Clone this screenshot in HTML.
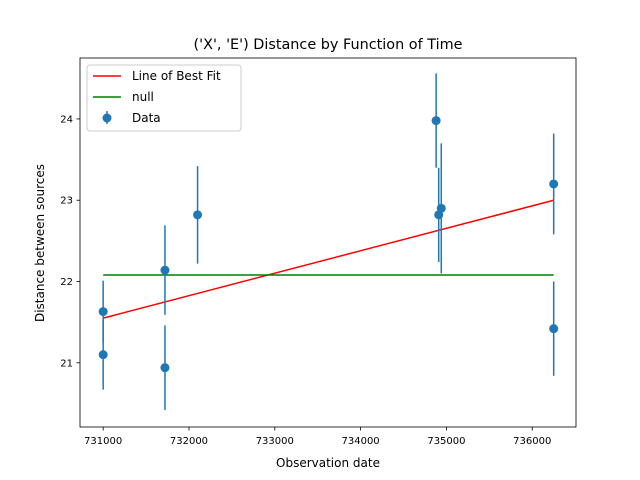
<!DOCTYPE html>
<html><head><meta charset="utf-8"><style>
body{margin:0;background:#fff}
svg{display:block;font-family:"DejaVu Sans","Liberation Sans",sans-serif}
</style></head><body>
<svg id="chart" width="640" height="480"></svg>
<script>
const xs=[731000,731000,731720,731720,732100,734880,734910,734940,736250,736250];
const ys=[21.63,21.10,22.14,20.94,22.82,23.98,22.82,22.90,23.20,21.42];
const errs=[0.38,0.43,0.55,0.52,0.6,0.58,0.58,0.8,0.62,0.58];
const fitX=[731000,736250];
const fitY=[21.55,23.0];
const nullY=[22.08,22.08];
const xTicks=[731000,732000,733000,734000,735000,736000];
const yTicks=[21,22,23,24];
const L=80,R=576,T=58,B=427;
const x0=730730,x1=736510,y0=20.21,y1=24.75;
const sx=v=>L+(v-x0)/(x1-x0)*(R-L);
const sy=v=>B-(v-y0)/(y1-y0)*(B-T);
const svg=document.getElementById('chart');
const NS='http://www.w3.org/2000/svg';
function mk(t,a,p){const e=document.createElementNS(NS,t);for(const k in a)e.setAttribute(k,a[k]);(p||svg).appendChild(e);return e;}
let e;
e=mk('rect',{x:L,y:T,width:R-L,height:B-T,fill:'none',stroke:'#000','stroke-width':0.8});


xTicks.forEach(v=>{
 e=mk('line',{x1:sx(v),x2:sx(v),y1:B,y2:B+3.5,stroke:'#000','stroke-width':0.8});
 
 
 e=mk('text',{x:sx(v),y:B+17,'text-anchor':'middle','font-size':10});e.textContent=v;
 
 
});
yTicks.forEach(v=>{
 e=mk('line',{x1:L-3.5,x2:L,y1:sy(v),y2:sy(v),stroke:'#000','stroke-width':0.8});
 
 
 e=mk('text',{x:L-7,y:sy(v)+3.5,'text-anchor':'end','font-size':10});e.textContent=v;
 
 
});
e=mk('line',{x1:sx(fitX[0]),y1:sy(fitY[0]),x2:sx(fitX[1]),y2:sy(fitY[1]),stroke:'red','stroke-width':1.5});


e=mk('line',{x1:sx(fitX[0]),y1:sy(nullY[0]),x2:sx(fitX[1]),y2:sy(nullY[1]),stroke:'green','stroke-width':1.5});


xs.forEach((v,i)=>{
 e=mk('line',{x1:sx(v),x2:sx(v),y1:sy(ys[i]-errs[i]),y2:sy(ys[i]+errs[i]),stroke:'#1f77b4','stroke-width':1.5});
 
 
 e=mk('circle',{cx:sx(v),cy:sy(ys[i]),r:4.5,fill:'#1f77b4'});
 
 
});
e=mk('text',{x:328,y:49,'text-anchor':'middle','font-size':14.4});e.textContent="('X', 'E') Distance by Function of Time";


e=mk('text',{x:328,y:467,'text-anchor':'middle','font-size':12});e.textContent='Observation date';


e=mk('text',{x:44,y:243,'text-anchor':'middle','font-size':12,transform:'rotate(-90 44 243)'});e.textContent='Distance between sources';


const lg=mk('g',{});


mk('rect',{x:87,y:65,width:154,height:66,rx:3,fill:'#fff','fill-opacity':0.8,stroke:'#ccc'},lg);
mk('line',{x1:93,x2:121,y1:76,y2:76,stroke:'red','stroke-width':1.5},lg);
mk('text',{x:132,y:80,'font-size':12},lg).textContent='Line of Best Fit';
mk('line',{x1:93,x2:121,y1:97,y2:97,stroke:'green','stroke-width':1.5},lg);
mk('text',{x:132,y:101,'font-size':12},lg).textContent='null';
mk('line',{x1:107,x2:107,y1:111,y2:124,stroke:'#1f77b4','stroke-width':1.5},lg);
mk('circle',{cx:107,cy:118,r:4.5,fill:'#1f77b4'},lg);
mk('text',{x:132,y:122,'font-size':12},lg).textContent='Data';
</script>
</body></html>
